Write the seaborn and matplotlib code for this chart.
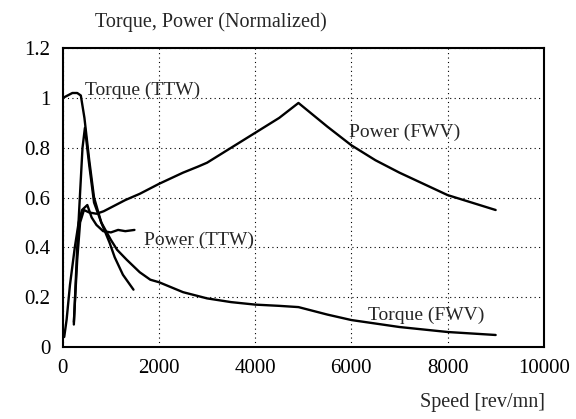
import matplotlib
matplotlib.use('Agg')
import matplotlib.pyplot as plt
import seaborn as sns
import pandas as pd

# values (speed in rev/mn, normalized values)
torque_ttw_speed = [0, 100, 200, 300, 375, 450, 550, 650, 800, 970, 1080, 1250, 1470]
torque_ttw = [1.0, 1.01, 1.02, 1.02, 1.01, 0.92, 0.75, 0.6, 0.5, 0.42, 0.36, 0.29, 0.23]

power_ttw_speed = [30, 80, 150, 250, 330, 400, 510, 600, 700, 840, 1000, 1150, 1300, 1490]
power_ttw = [0.04, 0.11, 0.25, 0.4, 0.5, 0.55, 0.57, 0.52, 0.49, 0.465, 0.46, 0.47, 0.465, 0.47]

torque_fwv_speed = [230, 300, 360, 410, 460, 550, 650, 800, 1000, 1130, 1330, 1600, 1820, 2000,
                    2500, 3000, 3500, 4000, 4500, 4900, 5500, 6000, 7000, 8000, 9000]
torque_fwv = [0.09, 0.4, 0.62, 0.8, 0.88, 0.73, 0.58, 0.5, 0.43, 0.39, 0.35, 0.3, 0.27, 0.26,
              0.22, 0.195, 0.18, 0.17, 0.165, 0.16, 0.13, 0.108, 0.08, 0.06, 0.048]

power_fwv_speed = [230, 300, 360, 440, 550, 700, 850, 1000, 1300, 1600, 2000, 2500, 2820,
                   3000, 3500, 4000, 4500, 4900, 5500, 6000, 6500, 7000, 7500, 8000, 8500, 9000]
power_fwv = [0.1, 0.35, 0.5, 0.55, 0.54, 0.535, 0.545, 0.56, 0.59, 0.615, 0.655, 0.7, 0.725,
             0.74, 0.8, 0.86, 0.92, 0.98, 0.885, 0.81, 0.75, 0.7, 0.655, 0.61, 0.58, 0.55]

x_ticks = [0, 2000, 4000, 6000, 8000, 10000]
y_ticks = [0, 0.2, 0.4, 0.6, 0.8, 1.0, 1.2]
y_tick_labels = ['0', '0.2', '0.4', '0.6', '0.8', '1', '1.2']

sns.set_style('white')
plt.rcParams['font.family'] = ['Liberation Serif', 'DejaVu Serif']

fig = plt.figure(figsize=(5.76, 4.19), dpi=100)
ax = fig.add_axes([0.109, 0.172, 0.835, 0.713])

curves = [(torque_ttw_speed, torque_ttw), (power_ttw_speed, power_ttw),
          (torque_fwv_speed, torque_fwv), (power_fwv_speed, power_fwv)]
for spd, val in curves:
    df = pd.DataFrame({'speed': spd, 'value': val})
    sns.lineplot(data=df, x='speed', y='value', ax=ax, color='black', lw=1.7,
                 sort=False, estimator=None)

ax.set_xlim(0, 10000)
ax.set_ylim(0, 1.2)
ax.set_xticks(x_ticks)
ax.set_xticklabels([str(t) for t in x_ticks])
ax.set_yticks(y_ticks)
ax.set_yticklabels(y_tick_labels)
ax.set_xlabel('')
ax.set_ylabel('')
ax.grid(True, linestyle=(0, (1, 3)), color='black', lw=0.8)
ax.tick_params(direction='in', length=3, labelsize=15, pad=9, colors='black')
for s in ax.spines.values():
    s.set_color('black')
    s.set_linewidth(1.5)

ax.text(470, 1.03, 'Torque (TTW)', fontsize=14, va='center')
ax.text(1690, 0.43, 'Power (TTW)', fontsize=14, va='center')
ax.text(5950, 0.86, 'Power (FWV)', fontsize=14, va='center')
ax.text(6350, 0.125, 'Torque (FWV)', fontsize=14, va='center')

fig.text(95 / 576, 1 - 22 / 419, 'Torque, Power (Normalized)', fontsize=14.5, va='center')
fig.text(545 / 576, 1 - 402 / 419, 'Speed [rev/mn]', fontsize=14.5, va='center', ha='right')

fig.savefig('out.png', dpi=100)
